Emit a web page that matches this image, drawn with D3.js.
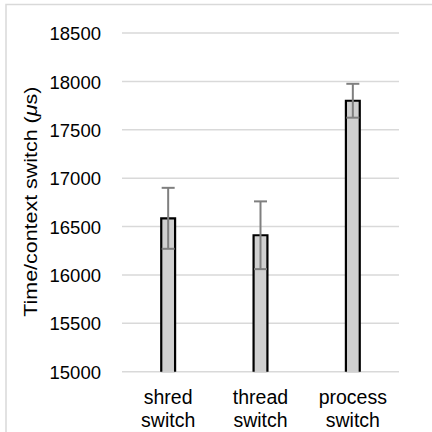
<!DOCTYPE html>
<html>
<head>
<meta charset="utf-8">
<script src="https://cdn.jsdelivr.net/npm/d3@7"></script>
<style>
html,body{margin:0;padding:0;background:#fff;}
svg{display:block;}
text{font-family:"Liberation Sans",Arial,Helvetica,sans-serif;fill:#000;}
</style>
</head>
<body>
<svg id="chart" width="432" height="432"></svg>
<script>
const categories = [["shred","switch"],["thread","switch"],["process","switch"]];
const values = [16585, 16410, 17800];
const errors = [315, 350, 175];
const yTicks = [15000, 15500, 16000, 16500, 17000, 17500, 18000, 18500];

(function () {
const svg = d3.select("#chart");
const plotL = 122, plotR = 399, plotT = 33, plotB = 371.7;

// outer frame (top and left visible)
svg.append("rect").attr("x", 6).attr("y", 4.5).attr("width", 440).attr("height", 440)
  .attr("fill", "none").attr("stroke", "#d9d9d9").attr("stroke-width", 1.5);

const x = d3.scaleBand().domain(d3.range(categories.length)).range([plotL, plotR])
  .paddingInner(0.85).paddingOuter(0.425);
const y = d3.scaleLinear().domain([15000, 18500]).range([plotB, plotT]);

// gridlines
svg.append("g").selectAll("line").data(yTicks).join("line")
  .attr("x1", plotL).attr("x2", plotR)
  .attr("y1", d => y(d)).attr("y2", d => y(d))
  .attr("stroke", "#d9d9d9").attr("stroke-width", 1.5);

// y tick labels via axis
const yAxis = d3.axisLeft(y).tickValues(yTicks).tickSize(0).tickPadding(0).tickFormat(d3.format("d"));
const gy = svg.append("g").attr("transform", "translate(101,0)").call(yAxis);
gy.select(".domain").remove();
gy.selectAll("text").attr("font-size", 18.5).attr("fill", "#000")
  .attr("font-family", "Liberation Sans, Arial, sans-serif").attr("dy", "0.36em");

// bars
const bars = svg.append("g");
values.forEach((v, i) => {
  const x0 = x(i), bw = x.bandwidth();
  bars.append("rect").attr("x", x0).attr("y", y(v)).attr("width", bw).attr("height", y(15000) - y(v) + 1)
    .attr("fill", "#d0d0d0");
  const p = d3.path();
  p.moveTo(x0, y(15000)); p.lineTo(x0, y(v)); p.lineTo(x0 + bw, y(v)); p.lineTo(x0 + bw, y(15000));
  bars.append("path").attr("d", p.toString()).attr("fill", "none").attr("stroke", "#000").attr("stroke-width", 2.2);
});

// error bars
const eb = svg.append("g").attr("stroke", "#7f7f7f").attr("stroke-width", 2);
values.forEach((v, i) => {
  const cx = x(i) + x.bandwidth() / 2;
  const hi = v + errors[i], lo = v - errors[i];
  eb.append("line").attr("x1", cx).attr("x2", cx).attr("y1", y(hi)).attr("y2", y(lo));
  eb.append("line").attr("x1", cx - 6.5).attr("x2", cx + 6.5).attr("y1", y(hi)).attr("y2", y(hi));
  eb.append("line").attr("x1", cx - 6.5).attr("x2", cx + 6.5).attr("y1", y(lo)).attr("y2", y(lo));
});

// x labels
const xl = svg.append("g");
categories.forEach((c, i) => {
  const cx = x(i) + x.bandwidth() / 2;
  const t = xl.append("text").attr("text-anchor", "middle").attr("font-size", 19.5);
  c.forEach((line, j) => {
    t.append("tspan").attr("x", cx).attr("y", 404 + j * 23).text(line);
  });
});

// y label
const yl = svg.append("text").attr("transform", "translate(37," + ((86.7 + 316.7) / 2) + ") rotate(-90)")
  .attr("text-anchor", "middle").attr("font-size", 18.5)
  .attr("textLength", 230).attr("lengthAdjust", "spacingAndGlyphs");
yl.append("tspan").text("Time/context switch (");
yl.append("tspan").attr("font-style", "italic").text("\u03bc");
yl.append("tspan").text("s)");
})();
</script>
</body>
</html>
